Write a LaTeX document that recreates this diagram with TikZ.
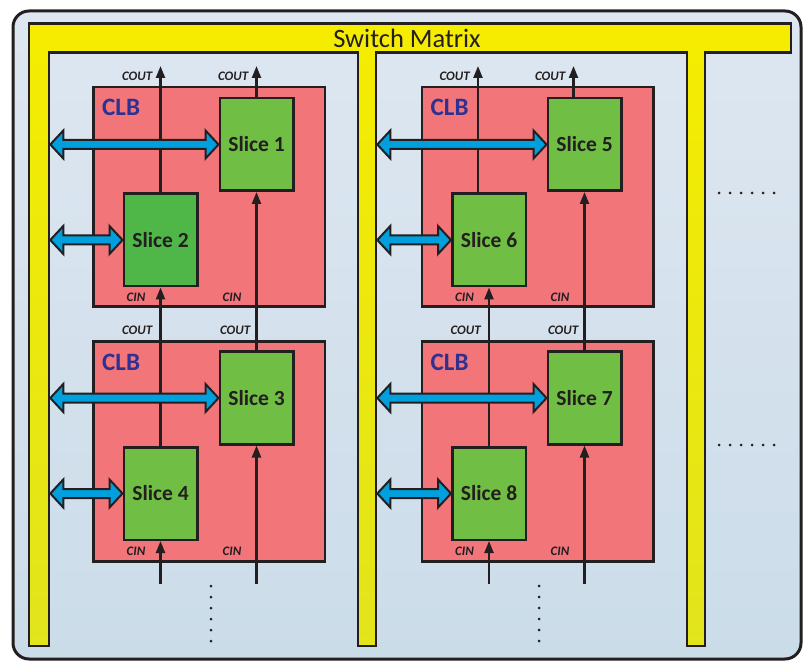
\documentclass[tikz,border=0pt]{standalone}
\usepackage{fontspec}
\setmainfont{Carlito}
\usetikzlibrary{calc}
\usetikzlibrary{arrows.meta}
\usetikzlibrary{positioning}

\definecolor{ink}{RGB}{35,31,32}
\definecolor{bgtop}{RGB}{222,231,241}
\definecolor{bgbot}{RGB}{203,220,233}
\definecolor{swyellow}{RGB}{245,236,0}
\definecolor{swyellowdk}{RGB}{226,228,28}
\definecolor{clbred}{RGB}{242,117,122}
\definecolor{clbblue}{RGB}{46,49,146}
\definecolor{slicegreen}{RGB}{112,190,68}
\definecolor{slicedark}{RGB}{78,183,72}
\definecolor{busblue}{RGB}{0,160,222}

\tikzset{
  clb/.style={draw=ink, line width=2.5pt, fill=clbred, minimum width=231.5pt, minimum height=219.5pt, inner sep=0pt},
  slice/.style={draw=ink, line width=2.5pt, fill=slicegreen, text=ink, minimum width=73.5pt, minimum height=92.5pt, inner sep=0pt, font=\bfseries\fontsize{21.5}{21.5}\selectfont},
  clbname/.style={text=clbblue, inner sep=0pt, font=\bfseries\fontsize{25}{25}\selectfont},
  sig/.style={text=ink, inner sep=0pt, anchor=east, font=\bfseries\itshape\fontsize{13}{13}\selectfont},
  carry/.style={draw=ink, line width=2.3pt, -{Triangle[length=12pt,width=9pt]}},
  bus/.style={fill=busblue, draw=ink, line width=2pt, line join=miter},
}

% horizontal two-headed bus arrow from the bar edge #1 to the slice side #2
\newcommand{\busarrow}[2]{%
  \filldraw[bus] let \p1=(#1), \p2=(#2) in
    (\x1,\y2) -- (\x1+13pt,\y2+14pt) -- (\x1+13pt,\y2+4.5pt) -- (\x2-13pt,\y2+4.5pt)
    -- (\x2-13pt,\y2+14pt) -- (\x2,\y2) -- (\x2-13pt,\y2-14pt) -- (\x2-13pt,\y2-4.5pt)
    -- (\x1+13pt,\y2-4.5pt) -- (\x1+13pt,\y2-14pt) -- cycle;}

\begin{document}
\begin{tikzpicture}[x=1pt, y=-1pt]
  \useasboundingbox (0,0) rectangle (804,663);
  \shadedraw[top color=bgtop, bottom color=bgbot, draw=ink, line width=3pt, rounded corners=16pt] (13,11) rectangle (801,659);

  \shadedraw[top color=swyellow, bottom color=swyellowdk, draw=ink, line width=2.5pt, line join=miter]
    (29,23.5) -- (791,23.5) -- (791,52.5) -- (705,52.5) -- (705,646) -- (687,646) -- (687,52.5)
    -- (376,52.5) -- (376,646) -- (358,646) -- (358,52.5) -- (49,52.5) -- (49,646) -- (29,646) -- cycle;
  \node[text=ink, font=\fontsize{26.5}{26.5}\selectfont] (sm) at (407,38) {Switch Matrix};
  \coordinate (barL) at (50.3,0);
  \coordinate (barM) at (377.3,0);

  \node[clb] (clb1) at (209,197) {};
  \node[clb] (clb2) at (209,451.5) {};
  \node[clb] (clb3) at (537.5,197) {};
  \node[clb] (clb4) at (537.5,451.5) {};
  \node[clbname, below right=13pt and 10pt of clb1.north west] (name1) {CLB};
  \node[clbname, below right=13pt and 10pt of clb2.north west] (name2) {CLB};
  \node[clbname, below right=13pt and 10pt of clb3.north west] (name3) {CLB};
  \node[clbname, below right=13pt and 10pt of clb4.north west] (name4) {CLB};

  \node[slice] (s1) at (256.5,144.5) {Slice 1};
  \node[slice, fill=slicedark] (s2) at (160.5,240) {Slice 2};
  \node[slice] (s3) at (256.5,398) {Slice 3};
  \node[slice] (s4) at (160.5,493.5) {Slice 4};
  \node[slice] (s5) at (584.5,144.5) {Slice 5};
  \node[slice] (s6) at (489,240) {Slice 6};
  \node[slice] (s7) at (584.5,398) {Slice 7};
  \node[slice] (s8) at (489,493.5) {Slice 8};

  \coordinate (t1) at ($(s1 |- clb1.north)+(0,-20)$);
  \coordinate (t2) at ($(s2 |- clb1.north)+(0,-20)$);
  \coordinate (t5) at ($(s5 |- clb3.north)+(-11,-20)$);
  \coordinate (t6) at ($(s6 |- clb3.north)+(-11,-20)$);
  \coordinate (b3) at ($(s3 |- clb2.south)+(0,21)$);
  \coordinate (b4) at ($(s4 |- clb2.south)+(0,21)$);
  \coordinate (b7) at ($(s7 |- clb4.south)+(0,21)$);
  \coordinate (b8) at ($(s8 |- clb4.south)+(0,21)$);

  \draw[carry] (s1.north) -- (t1);
  \draw[carry] (s2.north) -- (t2);
  \draw[carry] (s3.north) -- (s1.south);
  \draw[carry] (s4.north) -- (s2.south);
  \draw[carry] (b3) -- (s3.south);
  \draw[carry] (b4) -- (s4.south);
  \draw[carry] ([xshift=-11pt]s5.north) -- (t5);
  \draw[carry] ([xshift=-11pt]s6.north) -- (t6);
  \draw[carry] (s7.north) -- (s5.south);
  \draw[carry] (s8.north) -- (s6.south);
  \draw[carry] (b7) -- (s7.south);
  \draw[carry] (b8) -- (s8.south);

  \node[sig] at ($(t1)+(-8,10)$) {COUT};
  \node[sig] at ($(t2)+(-8,10)$) {COUT};
  \node[sig] at ($(t5)+(-8,10)$) {COUT};
  \node[sig] at ($(t6)+(-8,10)$) {COUT};
  \node[sig] at ($(s3 |- clb2.north)+(-6,-10)$) {COUT};
  \node[sig] at ($(s4 |- clb2.north)+(-8,-10)$) {COUT};
  \node[sig] at ($(s7 |- clb4.north)+(-6,-10)$) {COUT};
  \node[sig] at ($(s8 |- clb4.north)+(-8,-10)$) {COUT};
  \node[sig] at ($(s1 |- clb1.south)+(-15,-11)$) {CIN};
  \node[sig] at ($(s2 |- clb1.south)+(-15,-11)$) {CIN};
  \node[sig] at ($(s3 |- clb2.south)+(-15,-11)$) {CIN};
  \node[sig] at ($(s4 |- clb2.south)+(-15,-11)$) {CIN};
  \node[sig] at ($(s5 |- clb3.south)+(-15,-11)$) {CIN};
  \node[sig] at ($(s6 |- clb3.south)+(-15,-11)$) {CIN};
  \node[sig] at ($(s7 |- clb4.south)+(-15,-11)$) {CIN};
  \node[sig] at ($(s8 |- clb4.south)+(-15,-11)$) {CIN};

  \busarrow{barL}{s1.west}
  \busarrow{barL}{s2.west}
  \busarrow{barL}{s3.west}
  \busarrow{barL}{s4.west}
  \busarrow{barM}{s5.west}
  \busarrow{barM}{s6.west}
  \busarrow{barM}{s7.west}
  \busarrow{barM}{s8.west}

  \foreach \i in {0,...,5} {
    \fill[ink] (719+\i*11,193) circle (1.5pt);
    \fill[ink] (719+\i*11,445) circle (1.5pt);
    \fill[ink] (211,586+\i*11) circle (1.5pt);
    \fill[ink] (539,586+\i*11) circle (1.5pt);
  }
\end{tikzpicture}
\end{document}
